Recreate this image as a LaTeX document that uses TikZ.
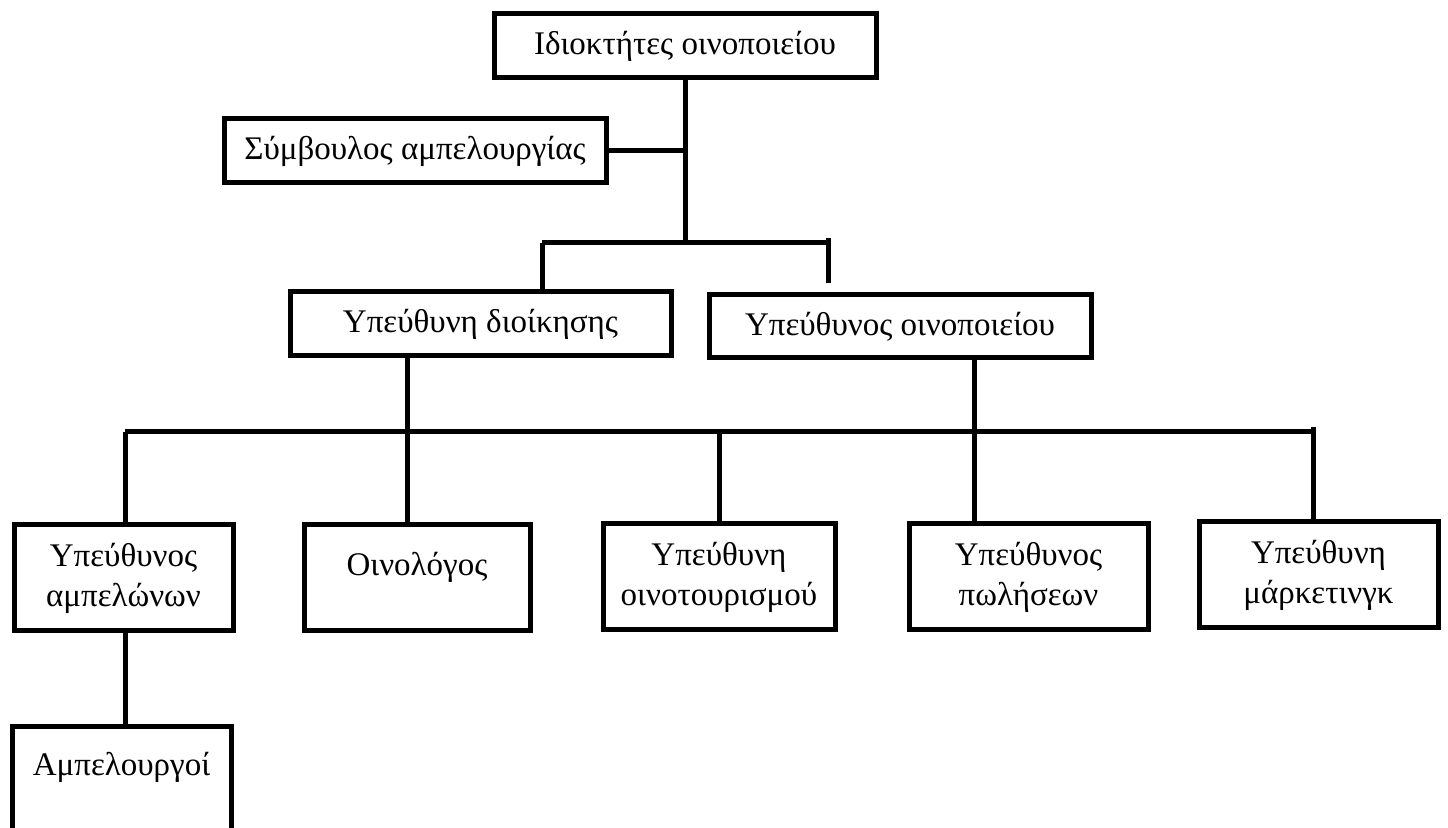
\documentclass[tikz,border=0pt]{standalone}
\usepackage{fontspec}
\setmainfont{Liberation Serif}

\begin{document}
\begin{tikzpicture}[x=0.5pt, y=-0.5pt, line width=2.5pt,
  box/.style={rectangle, draw, line width=2.5pt, align=center, inner sep=0pt,
    font=\fontsize{16.5}{20}\selectfont}]

  \useasboundingbox (0,0) rectangle (1448,828);

  \node[box, minimum width=191pt, minimum height=32pt] (own) at (685,46) {Ιδιοκτήτες οινοποιείου};
  \node[box, minimum width=191pt, minimum height=32pt] (adv) at (415,151) {Σύμβουλος αμπελουργίας};
  \node[box, minimum width=190.5pt, minimum height=32pt] (adm) at (480.5,324) {Υπεύθυνη διοίκησης};
  \node[box, minimum width=191pt, minimum height=31.5pt] (win) at (900,326.5) {Υπεύθυνος οινοποιείου};

  \node[box, minimum width=109.5pt, minimum height=53pt] (vin) at (123.5,578) {Υπεύθυνος\\αμπελώνων};
  \node[box, minimum width=113pt, minimum height=53pt, text depth=14.6pt] (oen) at (417,578) {Οινολόγος};
  \node[box, minimum width=116pt, minimum height=53pt] (tou) at (719,577) {Υπεύθυνη\\οινοτουρισμού};
  \node[box, minimum width=119.5pt, minimum height=53pt] (sal) at (1028.5,577) {Υπεύθυνος\\πωλήσεων};
  \node[box, minimum width=119.5pt, minimum height=53pt] (mkt) at (1318.5,575) {Υπεύθυνη\\μάρκετινγκ};
  \node[box, minimum width=109.5pt, minimum height=58pt, text depth=20.6pt, anchor=north] (grw) at (121.5,724) {Αμπελουργοί};

  \coordinate (b1) at (685,243);
  \coordinate (b1l) at (542,243);
  \coordinate (b1r) at (828,243);
  \coordinate (b1e) at (828,283);
  \coordinate (b2l) at (125,432);
  \coordinate (b2a) at (407,432);
  \coordinate (b2c) at (974,432);
  \coordinate (b2r) at (1313,432);

  \draw (own.south) -- (b1);
  \draw (adv.east) -- (adv.east -| own.south);
  \draw (b1l) -- (b1r);
  \draw (b1l) -- (b1l |- adm.north);
  \draw ([yshift=2.5pt]b1r) -- (b1e);

  \draw (adm.south -| b2a) -- (oen.north -| b2a);
  \draw (win.south -| b2c) -- (sal.north -| b2c);
  \draw (b2l) -- (b2r);
  \draw (b2l) -- (b2l |- vin.north);
  \draw (tou.north) -- (tou.north |- b2l);
  \draw ([yshift=2.5pt]b2r) -- (b2r |- mkt.north);
  \draw (vin.south -| b2l) -- (grw.north -| b2l);

\end{tikzpicture}
\end{document}
